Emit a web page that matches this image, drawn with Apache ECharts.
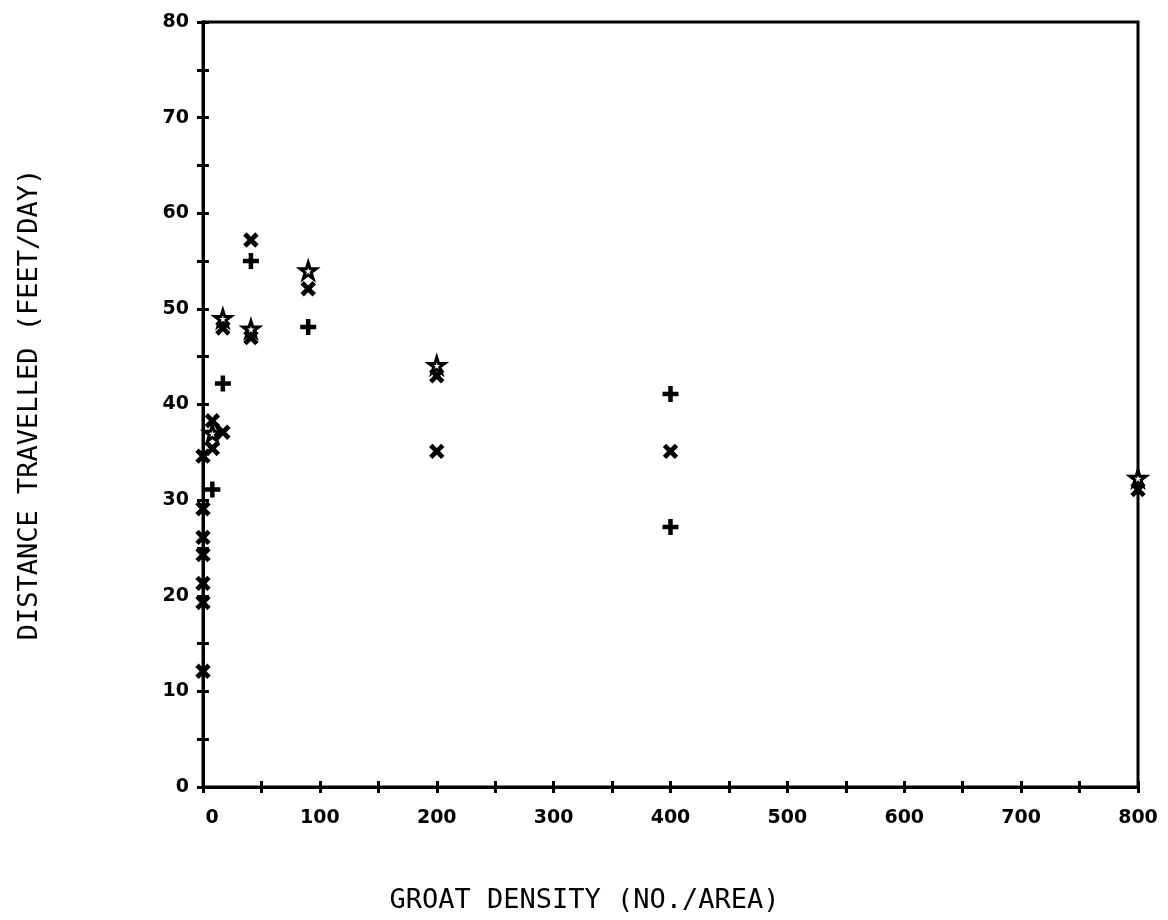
<!DOCTYPE html>
<html>
<head>
<meta charset="utf-8">
<script src="https://cdn.jsdelivr.net/npm/echarts@6/dist/echarts.min.js"></script>
<style>
html,body{margin:0;padding:0;background:#fff;}
#chart{width:1168px;height:920px;}
</style>
</head>
<body>
<div id="chart"></div>
<script>
// Data: [groat density, distance travelled]
const crossPoints = [
  [0,12.1],[0,19.3],[0,21.3],[0,24.3],[0,26.1],[0,29.1],[0,34.6],
  [8,38.3],[8,35.4],[17,37.1],[17,48],[41,57.2],[41,47],[90,52.1],
  [200,43],[200,35.1],[400,35.1],[800,31.1]
];
const plusPoints = [
  [8,31.1],[17,42.2],[41,55],[90,48.1],[400,41.1],[400,27.2]
];
const starPoints = [
  [8,37],[17,49],[41,47.9],[90,54],[200,44.1],[800,32.3]
];
const xTicks = [0,100,200,300,400,500,600,700,800];
const yTicks = [0,10,20,30,40,50,60,70,80];

const xTitle = 'GROAT DENSITY (NO./AREA)';
const yTitle = 'DISTANCE TRAVELLED (FEET/DAY)';

const chart = echarts.init(document.getElementById('chart'), null, {renderer:'canvas'});
const plusPath = 'path://M3.6,0H6.4V3.6H10V6.4H6.4V10H3.6V6.4H0V3.6H3.6Z';
const starPath = 'path://M50,0L61.8,35.5L100,35.5L69.1,57.4L80.9,93L50,71L19.1,93L30.9,57.4L0,35.5L38.2,35.5Z';
const labelFont = {fontFamily:'DejaVu Sans', fontWeight:'bold', fontSize:19, color:'#000'};

function axisBase(){
  return {
    axisLine:{show:true, onZero:false, lineStyle:{color:'#000', width:3}},
    splitLine:{show:false}
  };
}

const option = {
  backgroundColor:'#fff',
  animation:false,
  grid:{left:203, right:30, top:22, bottom:133, show:true, borderColor:'#000', borderWidth:3, backgroundColor:'transparent'},
  xAxis:[
    Object.assign(axisBase(), {
      type:'value', min:0, max:800, interval:50, position:'bottom',
      axisTick:{show:true, inside:false, length:6, lineStyle:{color:'#000', width:3}},
      axisLabel:{show:true, margin:22,
        formatter:v => v === 0 ? '{z|0}' : (xTicks.indexOf(v) >= 0 ? String(v) : ''),
        rich:{z:{fontFamily:'DejaVu Sans', fontWeight:'bold', fontSize:19, color:'#000', padding:[0,0,0,18]}},
        ...labelFont},
      name:xTitle, nameLocation:'middle', nameGap:100,
      nameTextStyle:{fontFamily:'DejaVu Sans Mono', fontSize:27, color:'#000', padding:[0,172,0,0]}
    }),
    Object.assign(axisBase(), {
      type:'value', min:0, max:800, interval:50, position:'bottom',
      axisTick:{show:true, inside:true, length:6, lineStyle:{color:'#000', width:3}},
      axisLabel:{show:false}
    })
  ],
  yAxis:[
    Object.assign(axisBase(), {
      type:'value', min:0, max:80, interval:5, position:'left',
      axisTick:{show:true, inside:false, length:6, lineStyle:{color:'#000', width:3}},
      axisLabel:{show:true, margin:14, formatter:v => yTicks.indexOf(v) >= 0 ? String(v) : '', ...labelFont},
      name:yTitle, nameLocation:'middle', nameGap:160, nameRotate:90,
      nameTextStyle:{fontFamily:'DejaVu Sans Mono', fontSize:27, color:'#000'}
    }),
    Object.assign(axisBase(), {
      type:'value', min:0, max:80, interval:5, position:'left',
      axisTick:{show:true, inside:true, length:6, lineStyle:{color:'#000', width:3}},
      axisLabel:{show:false}
    })
  ],
  series:[
    {type:'scatter', name:'cross', data:crossPoints, symbol:plusPath, symbolSize:17, symbolRotate:45,
     itemStyle:{color:'#000', opacity:1}, z:3},
    {type:'scatter', name:'plus', data:plusPoints, symbol:plusPath, symbolSize:16,
     itemStyle:{color:'#000', opacity:1}, z:3},
    {type:'scatter', name:'star', data:starPoints, symbol:starPath, symbolSize:16,
     itemStyle:{color:'#fff', borderColor:'#000', borderWidth:3, opacity:1}, z:4}
  ]
};
chart.setOption(option);
</script>
</body>
</html>
